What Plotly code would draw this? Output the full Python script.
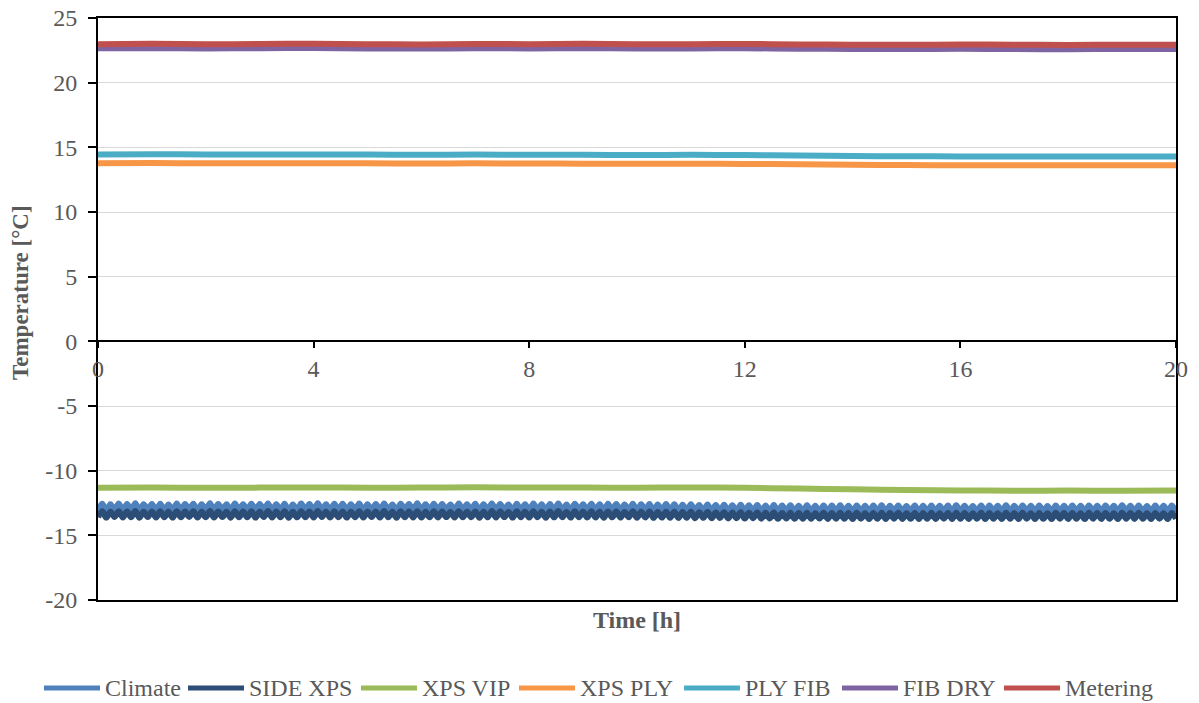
import numpy as np
import plotly.graph_objects as go

# Fine time grid (h) for the oscillating cold-side sensors
t_fine = np.linspace(0, 20, 261)
# Hourly time grid (h) for the slowly varying sensors
t_hour = list(range(0, 21))

climate = [
    -13.08, -12.56, -13.1, -12.6, -13.06, -12.54, -13.12, -12.58, -13.08, -12.52, -13.1, -12.6, -13.05, -12.57, -13.11, -12.55, -13.07, -12.61, -13.09, -12.53,
    -13.1, -12.58, -13.06, -12.56, -13.12, -12.6, -13.08, -12.52, -13.1, -12.57, -13.05, -12.59, -13.11, -12.54, -13.08, -12.6, -13.07, -12.55, -13.12, -12.58,
    -13.06, -12.53, -13.1, -12.59, -13.08, -12.56, -13.12, -12.61, -13.07, -12.54, -13.09, -12.58, -13.1, -12.52, -13.06, -12.6, -13.11, -12.56, -13.08, -12.55,
    -13.1, -12.59, -13.07, -12.54, -13.12, -12.6, -13.06, -12.57, -13.1, -12.53, -13.08, -12.61, -13.11, -12.56, -13.07, -12.58, -13.09, -12.52, -13.12, -12.6,
    -13.08, -12.55, -13.1, -12.58, -13.06, -12.62, -13.11, -12.54, -13.09, -12.59, -13.07, -12.56, -13.12, -12.6, -13.08, -12.53, -13.1, -12.58, -13.06, -12.61,
    -13.11, -12.55, -13.08, -12.59, -13.1, -12.54, -13.07, -12.6, -13.12, -12.57, -13.09, -12.53, -13.08, -12.61, -13.11, -12.56, -13.07, -12.59, -13.1, -12.55,
    -13.09, -12.6, -13.12, -12.56, -13.08, -12.58, -13.1, -12.62, -13.07, -12.55, -13.11, -12.59, -13.09, -12.57, -13.13, -12.61, -13.1, -12.58, -13.12, -12.6,
    -13.14, -12.63, -13.12, -12.6, -13.15, -12.65, -13.13, -12.62, -13.16, -12.66, -13.14, -12.63, -13.17, -12.67, -13.15, -12.64, -13.18, -12.68, -13.16, -12.65,
    -13.19, -12.69, -13.17, -12.66, -13.2, -12.7, -13.18, -12.67, -13.21, -12.71, -13.19, -12.68, -13.2, -12.72, -13.18, -12.69, -13.21, -12.7, -13.19, -12.68,
    -13.2, -12.71, -13.22, -12.69, -13.19, -12.72, -13.21, -12.7, -13.2, -12.68, -13.22, -12.71, -13.19, -12.69, -13.21, -12.73, -13.2, -12.7, -13.22, -12.71,
    -13.2, -12.69, -13.21, -12.72, -13.19, -12.7, -13.22, -12.68, -13.2, -12.71, -13.21, -12.73, -13.19, -12.69, -13.22, -12.7, -13.2, -12.72, -13.21, -12.68,
    -13.2, -12.71, -13.22, -12.69, -13.19, -12.72, -13.21, -12.7, -13.2, -12.73, -13.22, -12.69, -13.19, -12.71, -13.21, -12.7, -13.2, -12.72, -13.22, -12.69,
    -13.19, -12.71, -13.21, -12.7, -13.2, -12.72, -13.22, -12.68, -13.19, -12.71, -13.21, -12.69, -13.2, -12.73, -13.22, -12.7, -13.19, -12.72, -13.21, -12.7,
    -13.2,
]

side_xps = [
    -13.6, -13.14, -13.63, -13.17, -13.58, -13.13, -13.62, -13.16, -13.6, -13.12, -13.64, -13.18, -13.59, -13.15, -13.62, -13.13, -13.6, -13.17, -13.63, -13.14,
    -13.61, -13.16, -13.58, -13.13, -13.63, -13.18, -13.6, -13.12, -13.62, -13.15, -13.59, -13.17, -13.64, -13.13, -13.6, -13.16, -13.61, -13.14, -13.63, -13.17,
    -13.59, -13.12, -13.62, -13.16, -13.6, -13.14, -13.64, -13.18, -13.61, -13.13, -13.6, -13.16, -13.63, -13.12, -13.58, -13.17, -13.62, -13.14, -13.6, -13.15,
    -13.63, -13.17, -13.6, -13.13, -13.62, -13.18, -13.59, -13.15, -13.63, -13.12, -13.61, -13.17, -13.64, -13.14, -13.6, -13.16, -13.62, -13.13, -13.63, -13.18,
    -13.6, -13.14, -13.62, -13.16, -13.59, -13.19, -13.63, -13.13, -13.61, -13.17, -13.6, -13.15, -13.64, -13.18, -13.61, -13.12, -13.62, -13.16, -13.59, -13.19,
    -13.63, -13.14, -13.6, -13.17, -13.62, -13.13, -13.6, -13.18, -13.64, -13.15, -13.61, -13.12, -13.6, -13.19, -13.63, -13.14, -13.6, -13.17, -13.62, -13.14,
    -13.62, -13.18, -13.64, -13.15, -13.61, -13.16, -13.63, -13.2, -13.6, -13.14, -13.64, -13.17, -13.62, -13.16, -13.65, -13.19, -13.63, -13.17, -13.65, -13.18,
    -13.66, -13.2, -13.64, -13.18, -13.67, -13.22, -13.65, -13.2, -13.68, -13.23, -13.66, -13.21, -13.69, -13.24, -13.67, -13.22, -13.7, -13.25, -13.68, -13.23,
    -13.71, -13.26, -13.69, -13.24, -13.72, -13.27, -13.7, -13.25, -13.72, -13.28, -13.71, -13.25, -13.72, -13.29, -13.7, -13.26, -13.73, -13.27, -13.71, -13.25,
    -13.72, -13.28, -13.74, -13.26, -13.71, -13.29, -13.73, -13.27, -13.72, -13.25, -13.74, -13.28, -13.71, -13.26, -13.73, -13.3, -13.72, -13.27, -13.74, -13.28,
    -13.72, -13.26, -13.73, -13.29, -13.71, -13.27, -13.74, -13.25, -13.72, -13.28, -13.73, -13.3, -13.71, -13.26, -13.74, -13.27, -13.72, -13.29, -13.73, -13.25,
    -13.72, -13.28, -13.74, -13.26, -13.71, -13.29, -13.73, -13.27, -13.72, -13.3, -13.74, -13.26, -13.71, -13.28, -13.73, -13.27, -13.72, -13.29, -13.74, -13.26,
    -13.71, -13.28, -13.73, -13.27, -13.72, -13.29, -13.74, -13.25, -13.71, -13.28, -13.73, -13.26, -13.72, -13.3, -13.74, -13.27, -13.71, -13.29, -13.73, -13.27,
    -13.72,
]

xps_vip = [-11.32, -11.3, -11.33, -11.31, -11.3, -11.32, -11.31, -11.29, -11.3, -11.31, -11.32,
           -11.3, -11.33, -11.38, -11.44, -11.5, -11.53, -11.55, -11.54, -11.55, -11.53]
xps_ply = [13.77, 13.78, 13.77, 13.76, 13.77, 13.76, 13.75, 13.76, 13.75, 13.74, 13.73,
           13.74, 13.72, 13.69, 13.65, 13.63, 13.62, 13.62, 13.61, 13.62, 13.62]
ply_fib = [14.45, 14.46, 14.45, 14.44, 14.45, 14.44, 14.43, 14.44, 14.43, 14.42, 14.41,
           14.42, 14.4, 14.37, 14.33, 14.31, 14.3, 14.3, 14.29, 14.3, 14.3]
fib_dry = [22.66, 22.67, 22.65, 22.66, 22.68, 22.65, 22.64, 22.66, 22.65, 22.67, 22.64,
           22.65, 22.66, 22.63, 22.61, 22.6, 22.62, 22.6, 22.59, 22.61, 22.6]
metering = [22.98, 23.0, 22.97, 22.99, 23.01, 22.98, 22.96, 22.99, 22.98, 23.0, 22.97,
            22.98, 22.99, 22.96, 22.94, 22.93, 22.95, 22.93, 22.92, 22.94, 22.93]

x_ticks = [0, 4, 8, 12, 16, 20]
y_ticks = [-20, -15, -10, -5, 0, 5, 10, 15, 20, 25]
y_tick_labels = ["-20", "-15", "-10", "-5", "0", "5", "10", "15", "20", "25"]

# (name, time grid, values, colour, x axis)
series = [
    ("Climate", t_fine, climate, "#4F81BD", "x"),
    ("SIDE XPS", t_fine, side_xps, "#2C4D75", "x2"),
    ("XPS VIP", t_hour, xps_vip, "#9BBB59", "x2"),
    ("XPS PLY", t_hour, xps_ply, "#F79646", "x2"),
    ("PLY FIB", t_hour, ply_fib, "#4BACC6", "x2"),
    ("FIB DRY", t_hour, fib_dry, "#8064A2", "x2"),
    ("Metering", t_hour, metering, "#C0504D", "x2"),
]

# legend key layout: left pixel of each key line along the bottom row
legend_key_left = [44, 188, 361, 519, 684, 842, 1004]
KEY_LEN, KEY_GAP, LEGEND_Y = 56, 3, 688

W, H = 1199, 703
ML, MR, MT, MB = 98, 23, 18, 103
PW, PH = W - ML - MR, H - MT - MB

FONT = "Liberation Serif"
GREY = "#595959"


def px_to_paper_x(px):
    return (px - ML) / PW


def px_to_paper_y(py):
    return 1 - (py - MT) / PH


fig = go.Figure()
for name, tx, vals, col, xa in series:
    fig.add_trace(go.Scatter(
        x=tx, y=vals, name=name, mode="lines", xaxis=xa, yaxis="y",
        line=dict(color=col, width=6, shape="spline", smoothing=1.0),
        showlegend=False,
    ))

# legend row drawn as key lines with labels
for (name, _, _, col, _), left in zip(series, legend_key_left):
    y = px_to_paper_y(LEGEND_Y)
    fig.add_shape(
        type="line", xref="paper", yref="paper",
        x0=px_to_paper_x(left), x1=px_to_paper_x(left + KEY_LEN), y0=y, y1=y,
        line=dict(color=col, width=5),
    )
    fig.add_annotation(
        xref="paper", yref="paper", x=px_to_paper_x(left + KEY_LEN + KEY_GAP), y=y,
        xanchor="left", yanchor="middle", text=name, showarrow=False,
        font=dict(family=FONT, size=24, color=GREY),
    )

# vertical axis title
fig.add_annotation(
    xref="paper", yref="paper", x=px_to_paper_x(20), y=px_to_paper_y(293),
    xanchor="center", yanchor="middle", textangle=-90, showarrow=False,
    text="<b>Temperature [°C]</b>", font=dict(family=FONT, size=23, color=GREY),
)

fig.update_layout(
    width=W, height=H,
    margin=dict(l=ML, r=MR, t=MT, b=MB, autoexpand=False),
    paper_bgcolor="white", plot_bgcolor="white",
    font=dict(family=FONT, size=24, color=GREY),
    showlegend=False,
    # frame axis along the bottom edge, carrying the title
    xaxis=dict(
        range=[0, 20], showgrid=False, zeroline=False,
        showline=True, linecolor="black", linewidth=2, mirror=True,
        showticklabels=False, ticks="",
        title=dict(text="<b>Time [h]</b>", standoff=10,
                   font=dict(family=FONT, size=24, color=GREY)),
    ),
    # time axis crossing at 0 °C
    xaxis2=dict(
        overlaying="x", anchor="free", position=20 / 45,
        side="bottom",
        range=[0, 20], tickvals=x_ticks, ticktext=[str(v) for v in x_ticks],
        showgrid=False, zeroline=False,
        showline=True, linecolor="black", linewidth=2,
        ticks="outside", ticklen=6, tickcolor="black", tickwidth=2,
        tickfont=dict(family=FONT, size=24, color=GREY),
    ),
    yaxis=dict(
        range=[-20, 25], tickvals=y_ticks, ticktext=y_tick_labels,
        showgrid=True, gridcolor="#D9D9D9", gridwidth=1.3, zeroline=False,
        showline=True, linecolor="black", linewidth=2, mirror=True,
        ticks="outside", ticklen=8, tickcolor="black", tickwidth=2,
        ticklabelstandoff=6,
        tickfont=dict(family=FONT, size=24, color=GREY),
    ),
)

fig.write_html("out.html")
